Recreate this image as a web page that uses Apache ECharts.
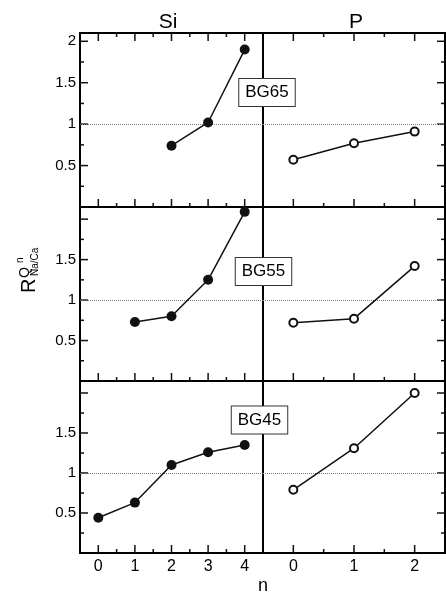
<!DOCTYPE html>
<html>
<head>
<meta charset="utf-8">
<script src="https://cdn.jsdelivr.net/npm/echarts@6/dist/echarts.min.js"></script>
<style>html,body{margin:0;padding:0;background:#fff}#c{width:446px;height:595px}</style>
</head>
<body>
<div id="c"></div>
<script>
// ---- data ----
const panelNames = ['BG65', 'BG55', 'BG45'];
const columnTitles = ['Si', 'P'];
const siN = [0, 1, 2, 3, 4];
const pN = [0, 1, 2];
const bg65Si = [null, null, 0.74, 1.02, 1.90];
const bg65P = [0.57, 0.77, 0.91];
const bg55Si = [null, 0.73, 0.80, 1.25, 2.09];
const bg55P = [0.72, 0.77, 1.42];
const bg45Si = [0.44, 0.63, 1.10, 1.26, 1.35];
const bg45P = [0.79, 1.31, 2.00];
const siMinor = [0.5, 1.5, 2.5, 3.5];
const pMinor = [0.5, 1.5];
const yMajor = [0.5, 1, 1.5, 2];
const yMinor = [0.25, 0.75, 1.25, 1.75];
const yLabelsTop = [0.5, 1, 1.5, 2];
const yLabelsOther = [0.5, 1, 1.5];
const yMax = [2.1, 2.15, 2.15];
const refLevel = 1;

const siData = [bg65Si, bg55Si, bg45Si];
const pData = [bg65P, bg55P, bg45P];

// ---- layout ----
const FONT = 'Liberation Sans, Arial, Helvetica, sans-serif';
const INK = '#111111';
const rows = [{top: 33, height: 174}, {top: 207, height: 174}, {top: 381, height: 172}];
const cols = [{left: 80, width: 183}, {left: 263, width: 182}];
const MAJOR_LEN = 8, MINOR_LEN = 4;

const grid = [], xAxis = [], yAxis = [], series = [];

function pairs(xs, ys) {
  const out = [];
  xs.forEach((x, i) => { if (ys[i] != null) out.push([x, ys[i]]); });
  return out;
}

// kinds: 0 x-major, 1 x-minor, 2 y-major, 3 y-minor
function tickData(xMaj, xMin) {
  const d = [];
  xMaj.forEach(v => d.push([v, 0]));
  xMin.forEach(v => d.push([v, 1]));
  yMajor.forEach(v => d.push([v, 2]));
  yMinor.forEach(v => d.push([v, 3]));
  return d;
}

function makeTickRenderer(withTop, rightSide) {
  return function (params, api) {
    const cs = params.coordSys;
    const v = api.value(0), kind = api.value(1);
    const st = {stroke: INK, lineWidth: 1.5};
    const children = [];
    if (kind === 0 || kind === 1) {
      const len = kind === 0 ? MAJOR_LEN : MINOR_LEN;
      const px = api.coord([v, 0])[0];
      const bottom = cs.y + cs.height;
      children.push({type: 'line', shape: {x1: px, y1: bottom, x2: px, y2: bottom - len}, style: st});
      if (withTop) {
        children.push({type: 'line', shape: {x1: px, y1: cs.y, x2: px, y2: cs.y + len}, style: st});
      }
    } else {
      const len = kind === 2 ? MAJOR_LEN : MINOR_LEN;
      const py = api.coord([0, v])[1];
      const ex = rightSide ? cs.x + cs.width : cs.x;
      const dir = rightSide ? -1 : 1;
      children.push({type: 'line', shape: {x1: ex, y1: py, x2: ex + dir * len, y2: py}, style: st});
    }
    return {type: 'group', children: children};
  };
}

rows.forEach((r, i) => {
  cols.forEach((c, j) => {
    const g = grid.length;
    grid.push({left: c.left, top: r.top, width: c.width, height: r.height,
      show: true, borderColor: '#000', borderWidth: 2});
    const xs = j === 0 ? siN : pN;
    const xmax = j === 0 ? 4.5 : 2.5;
    const minor = j === 0 ? siMinor : pMinor;
    xAxis.push({type: 'value', gridIndex: g, min: -0.5, max: xmax, position: 'bottom',
      axisLine: {show: false, onZero: false}, splitLine: {show: false}, axisTick: {show: false},
      axisLabel: i === 2
        ? {show: true, customValues: xs.slice(), margin: 6, color: '#000', fontSize: 16, fontFamily: FONT}
        : {show: false}});
    yAxis.push({type: 'value', gridIndex: g, min: 0, max: yMax[i], position: j === 0 ? 'left' : 'right',
      axisLine: {show: false, onZero: false}, splitLine: {show: false}, axisTick: {show: false},
      axisLabel: j === 0
        ? {show: true, customValues: (i === 0 ? yLabelsTop : yLabelsOther).slice(), margin: 4,
           color: '#000', fontSize: 15, fontFamily: FONT}
        : {show: false}});
    const filled = j === 0;
    series.push({
      type: 'line', xAxisIndex: g, yAxisIndex: g,
      data: pairs(xs, j === 0 ? siData[i] : pData[i]),
      symbol: filled ? 'circle' : 'emptyCircle',
      symbolSize: filled ? 10 : 8,
      itemStyle: {color: INK, borderColor: INK, borderWidth: filled ? 0 : 1},
      lineStyle: {color: INK, width: 1.5},
      z: 5,
      markLine: {silent: true, symbol: ['none', 'none'], label: {show: false},
        lineStyle: {color: '#777', type: 'dotted', width: 1},
        data: [{yAxis: refLevel}]}
    });
    series.push({
      type: 'custom', xAxisIndex: g, yAxisIndex: g, silent: true, clip: false, z: 4,
      data: tickData(xs, minor),
      renderItem: makeTickRenderer(i === 0, j === 1)
    });
  });
});

const labelPos = [[267, 92.5], [263.5, 271.5], [259.5, 420]];
const graphic = [];
panelNames.forEach((t, i) => {
  graphic.push({type: 'text', x: labelPos[i][0], y: labelPos[i][1], z: 20,
    style: {text: t, font: '17px ' + FONT, fill: '#000', align: 'center', verticalAlign: 'middle',
      backgroundColor: '#fff', borderColor: '#333', borderWidth: 1, padding: [5, 6, 5, 6]}});
});
graphic.push({type: 'text', x: 168, y: 22, style: {text: columnTitles[0], font: '21px ' + FONT, fill: '#000', align: 'center', verticalAlign: 'middle'}});
graphic.push({type: 'text', x: 356, y: 22, style: {text: columnTitles[1], font: '21px ' + FONT, fill: '#000', align: 'center', verticalAlign: 'middle'}});
graphic.push({type: 'text', x: 263, y: 586, style: {text: 'n', font: '18px ' + FONT, fill: '#000', align: 'center', verticalAlign: 'middle'}});
// y-axis title R^{Q^n}_{Na/Ca}, rotated to read bottom-to-top
graphic.push({type: 'group', x: 29.5, y: 293, rotation: Math.PI / 2, children: [
  {type: 'text', x: 0, y: 0, style: {text: 'R', font: '20px ' + FONT, fill: '#000', align: 'left', verticalAlign: 'middle'}},
  {type: 'text', x: 15, y: -4, style: {text: 'Q', font: '14px ' + FONT, fill: '#000', align: 'left', verticalAlign: 'middle'}},
  {type: 'text', x: 30, y: -9, style: {text: 'n', font: '10px ' + FONT, fill: '#000', align: 'left', verticalAlign: 'middle'}},
  {type: 'text', x: 17, y: 6, style: {text: 'Na/Ca', font: '10px ' + FONT, fill: '#000', align: 'left', verticalAlign: 'middle'}}
]});

const chart = echarts.init(document.getElementById('c'), null, {renderer: 'canvas'});
chart.setOption({animation: false, backgroundColor: '#fff', grid, xAxis, yAxis, series, graphic});
</script>
</body>
</html>
